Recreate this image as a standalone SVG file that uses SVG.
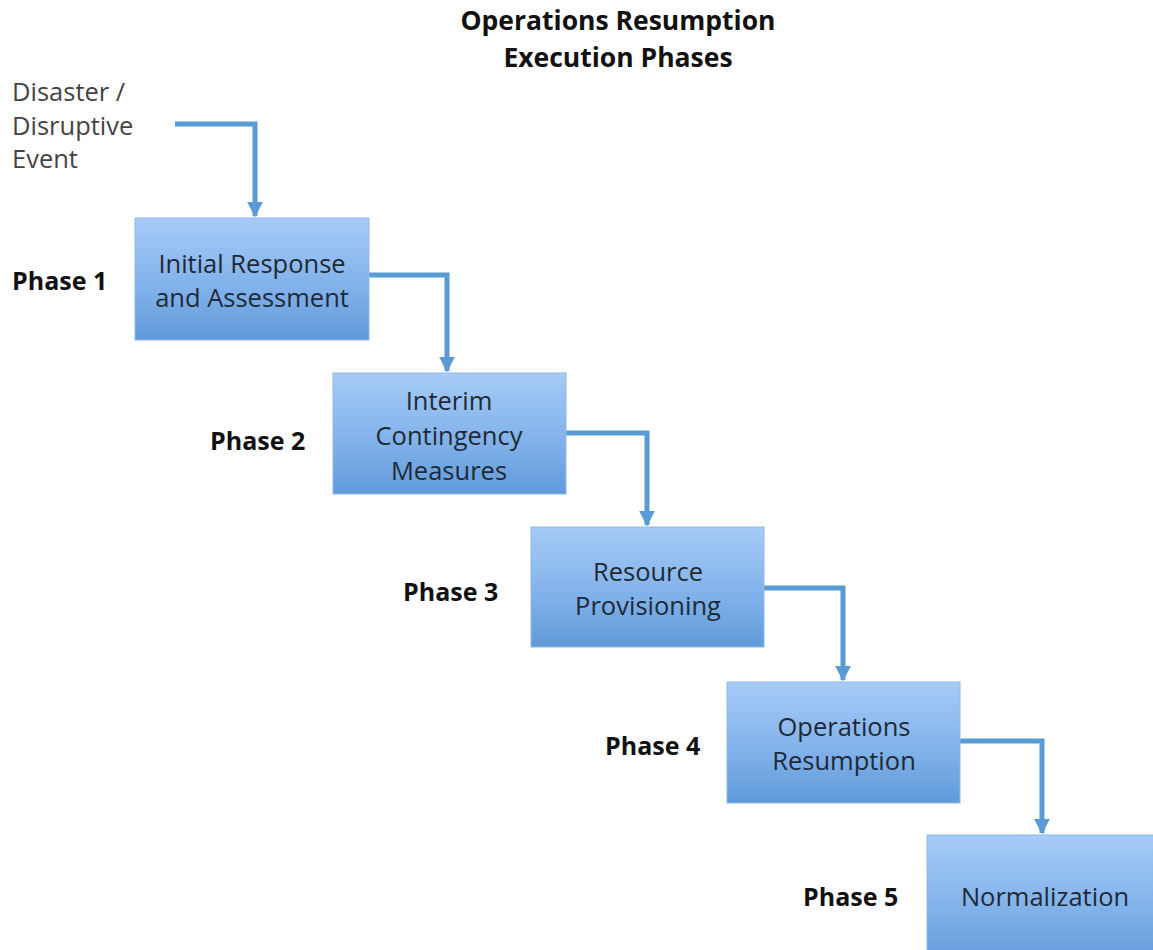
<svg xmlns="http://www.w3.org/2000/svg" width="1153" height="950" viewBox="0 0 1153 950">
<defs>
<linearGradient id="g" x1="0" y1="0" x2="0" y2="1">
<stop offset="0" stop-color="#a6cbf7"/>
<stop offset="0.6" stop-color="#7fb0e9"/>
<stop offset="1" stop-color="#5f9ad9"/>
</linearGradient>
<marker id="ah" viewBox="0 0 10 10" refX="9" refY="5" markerWidth="3.2" markerHeight="3.2" orient="auto" markerUnits="strokeWidth">
<path d="M0,0 L10,5 L0,10 z" fill="#5b9bd5"/>
</marker>
<style>
.box{fill:url(#g);stroke:#8fb8e6;stroke-width:1}
.t{font-family:"Open Sans","Liberation Sans",sans-serif;font-size:25.5px;fill:#1f2a36;text-anchor:middle}
.ph{font-family:"Open Sans","Liberation Sans",sans-serif;font-size:25px;font-weight:bold;fill:#111}
.ttl{font-family:"Open Sans","Liberation Sans",sans-serif;font-size:26.5px;font-weight:bold;fill:#111;text-anchor:middle}
.ev{font-family:"Open Sans","Liberation Sans",sans-serif;font-size:25.5px;fill:#444}
.c{fill:none;stroke:#5b9bd5;stroke-width:5;marker-end:url(#ah)}
</style>
</defs>
<rect width="1153" height="950" fill="#fff"/>
<g id="title">
<text class="ttl" x="618" y="30">Operations Resumption</text>
<text class="ttl" x="618" y="67">Execution Phases</text>
</g>
<g id="event">
<text class="ev" x="12" y="101">Disaster /</text>
<text class="ev" x="12" y="135">Disruptive</text>
<text class="ev" x="12" y="168">Event</text>
</g>
<g id="connectors">
<path class="c" d="M175,124 H255 V216"/>
<path class="c" d="M369,275 H447 V371"/>
<path class="c" d="M566,433 H647 V525"/>
<path class="c" d="M764,588 H843 V680"/>
<path class="c" d="M960,741 H1042 V833"/>
</g>
<g id="phase1">
<text class="ph" x="12" y="290">Phase 1</text>
<rect class="box" x="135" y="218" width="234" height="122"/>
<text class="t" x="252" y="273">Initial Response</text>
<text class="t" x="252" y="307">and Assessment</text>
</g>
<g id="phase2">
<text class="ph" x="210" y="450">Phase 2</text>
<rect class="box" x="333" y="373" width="233" height="121"/>
<text class="t" x="449" y="410">Interim</text>
<text class="t" x="449" y="445">Contingency</text>
<text class="t" x="449" y="480">Measures</text>
</g>
<g id="phase3">
<text class="ph" x="403" y="601">Phase 3</text>
<rect class="box" x="531" y="527" width="233" height="120"/>
<text class="t" x="648" y="581">Resource</text>
<text class="t" x="648" y="615">Provisioning</text>
</g>
<g id="phase4">
<text class="ph" x="605" y="755">Phase 4</text>
<rect class="box" x="727" y="682" width="233" height="121"/>
<text class="t" x="844" y="736">Operations</text>
<text class="t" x="844" y="770">Resumption</text>
</g>
<g id="phase5">
<text class="ph" x="803" y="906">Phase 5</text>
<rect class="box" x="927" y="835" width="240" height="130"/>
<text class="t" x="1045" y="906">Normalization</text>
</g>
</svg>
